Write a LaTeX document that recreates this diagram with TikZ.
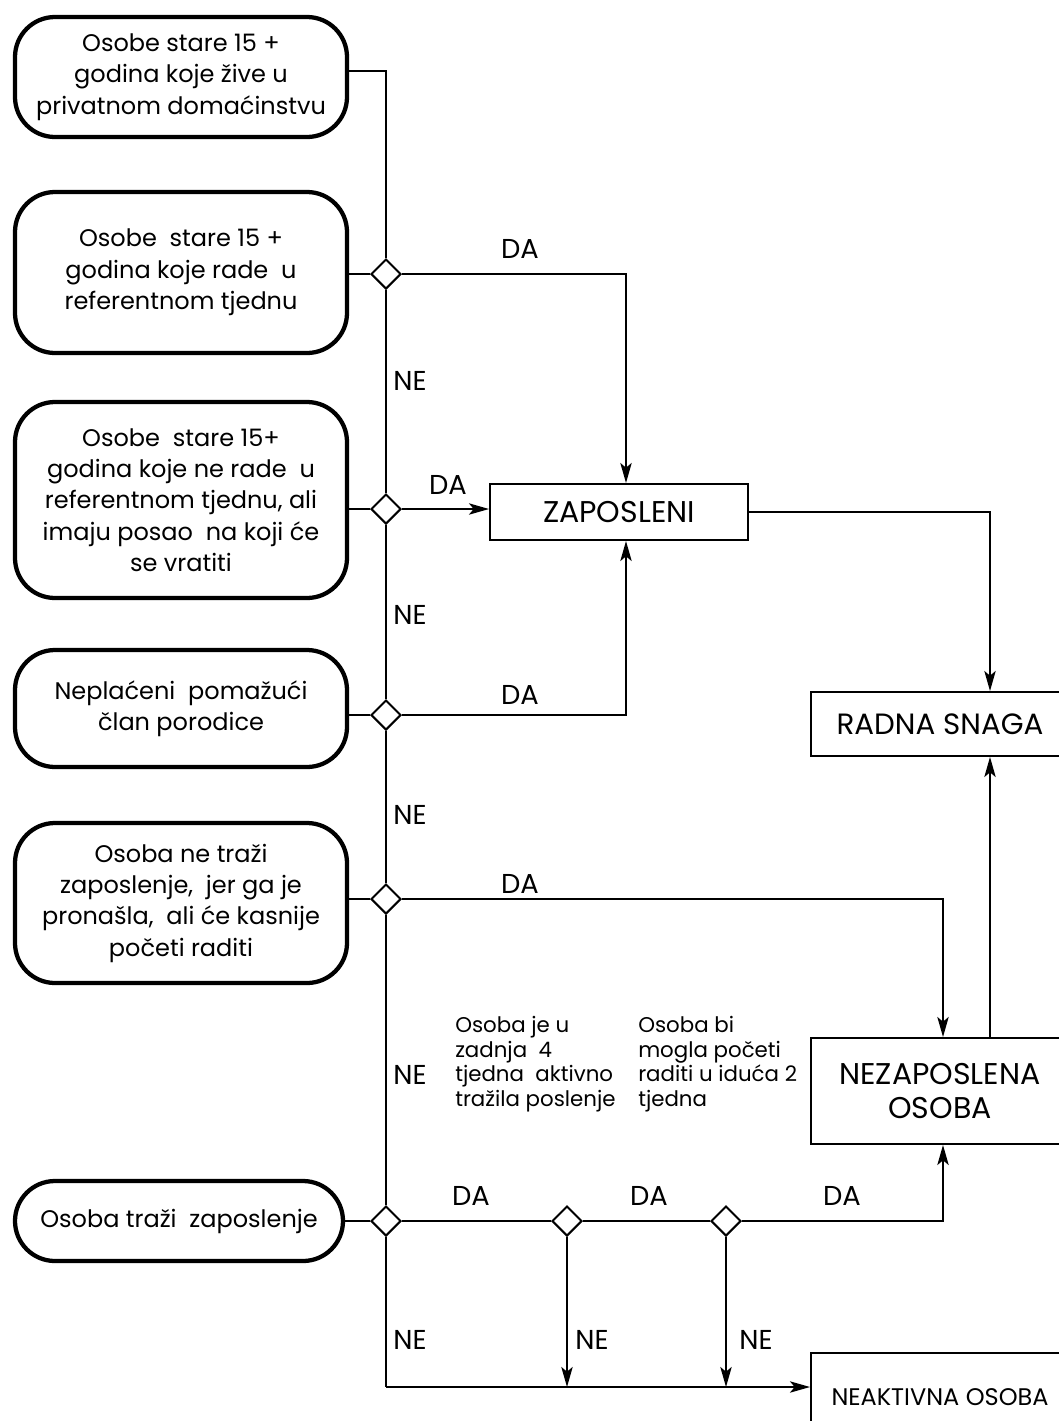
\documentclass[tikz,border=0pt]{standalone}
\usepackage{fontspec}
\setmainfont{Poppins}
\usetikzlibrary{arrows.meta,shapes.geometric,calc}
\begin{document}
\begin{tikzpicture}[x=0.75pt,y=-0.75pt,
  rbox/.style={draw,line width=3.2pt,rounded corners=30pt,align=center,font=\fontsize{18}{23.5}\selectfont,inner sep=0pt,minimum width=249pt},
  dec/.style={draw,diamond,line width=1.5pt,minimum width=22.5pt,minimum height=22.5pt,inner sep=0pt,fill=white},
  sbox/.style={draw,line width=1.5pt,align=center,inner sep=0pt,minimum width=193.5pt},
  conn/.style={line width=1.5pt},
  arr/.style={conn,-{Stealth[length=15pt,width=8.5pt,inset=3.5pt]}},
  lab/.style={font=\fontsize{20.5}{24}\selectfont,inner sep=0pt},
  note/.style={font=\fontsize{16}{18.5}\selectfont,align=left,anchor=north west,inner sep=0pt}
]
\clip (0,0) rectangle (1059,1421);
\fill[white] (0,0) rectangle (1059,1421);

% left rounded boxes
\node[rbox,minimum height=90pt] (b1) at (181,77) {Osobe stare 15 +\\godina koje žive u\\privatnom domaćinstvu};
\node[rbox,minimum height=120.75pt] (b2) at (181,272.5) {Osobe~ stare 15 +\\godina koje rade~ u\\referentnom tjednu};
\node[rbox,minimum height=147pt] (b3) at (181,500) {Osobe~ stare 15+\\godina koje ne rade~ u\\referentnom tjednu, ali\\imaju posao~ na koji će\\se vratiti};
\node[rbox,minimum height=87.75pt] (b4) at (181,708.5) {Neplaćeni~ pomažući\\član porodice};
\node[rbox,minimum height=120pt] (b5) at (181,903) {Osoba ne traži\\zaposlenje,~ jer ga je\\pronašla,~ ali će kasnije\\početi raditi};
\node[rbox,minimum height=60pt,minimum width=246pt] (b6) at (179,1221) {Osoba traži~ zaposlenje};

% decisions
\node[dec] (d1) at (386,274) {};
\node[dec] (d2) at (386,509) {};
\node[dec] (d3) at (386,715) {};
\node[dec] (d4) at (386,899) {};
\node[dec] (d5) at (386,1221) {};
\node[dec] (d6) at (567,1221) {};
\node[dec] (d7) at (726,1221) {};

% result boxes
\node[sbox,minimum height=42pt,font=\fontsize{22.5}{26}\selectfont] (zap) at (619,512) {ZAPOSLENI};
\node[sbox,minimum height=48pt,font=\fontsize{22}{26}\selectfont] (rad) at (940,724) {RADNA SNAGA};
\node[sbox,minimum height=79.5pt,font=\fontsize{22.5}{26}\selectfont] (nez) at (940,1091) {NEZAPOSLENA\\OSOBA};
\node[sbox,minimum height=66pt,font=\fontsize{18}{22}\selectfont] (neak) at (940,1397) {NEAKTIVNA OSOBA};

% helper coordinates
\coordinate (c0) at (386,71);
\coordinate (cB) at (386,1387);
\coordinate (zx) at (626,0);
\coordinate (rx) at (990,0);
\coordinate (nx) at (943,0);

% main spine
\draw[conn] (b1.east |- c0) -- (c0) -- (d1.north);
\draw[conn] (d1.south) -- (d2.north);
\draw[conn] (d2.south) -- (d3.north);
\draw[conn] (d3.south) -- (d4.north);
\draw[conn] (d4.south) -- (d5.north);
\draw[conn] (d5.south) -- (cB);
\draw[arr] (cB) -- (cB -| neak.west);

% boxes to decisions
\draw[conn] (b2.east |- d1) -- (d1.west);
\draw[conn] (b3.east |- d2) -- (d2.west);
\draw[conn] (b4.east |- d3) -- (d3.west);
\draw[conn] (b5.east |- d4) -- (d4.west);
\draw[conn] (b6.east |- d5) -- (d5.west);

% DA branches
\draw[arr] (d1.east) -| (zx |- zap.north);
\draw[arr] (d2.east) -- (d2.east -| zap.west);
\draw[arr] (d3.east) -| (zx |- zap.south);
\draw[arr] (zap.east) -| (rx |- rad.north);
\draw[arr] (rx |- nez.north) -- (rx |- rad.south);
\draw[arr] (d4.east) -| (nx |- nez.north);
\draw[conn] (d5.east) -- (d6.west);
\draw[conn] (d6.east) -- (d7.west);
\draw[arr] (d7.east) -| (nx |- nez.south);
\draw[arr] (d6.south) -- (d6 |- cB);
\draw[arr] (d7.south) -- (d7 |- cB);

% labels
\node[lab] (l1) at (520,249) {DA};
\node[lab] (l2) at (410,381) {NE};
\node[lab] (l3) at (448,485) {DA};
\node[lab] (l4) at (410,615) {NE};
\node[lab] (l5) at (520,695) {DA};
\node[lab] (l6) at (410,815) {NE};
\node[lab] (l7) at (520,884) {DA};
\node[lab] (l8) at (410,1075) {NE};
\node[lab] (l9) at (471,1196) {DA};
\node[lab] (l10) at (649,1196) {DA};
\node[lab] (l11) at (842,1196) {DA};
\node[lab] (l12) at (410,1340) {NE};
\node[lab] (l13) at (592,1340) {NE};
\node[lab] (l14) at (756,1340) {NE};

% notes
\node[note] (t1) at (455,1016) {Osoba je u\\zadnja~ 4\\tjedna~ aktivno\\tražila poslenje};
\node[note] (t2) at (638,1016) {Osoba bi\\mogla početi\\raditi u iduća 2\\tjedna};
\end{tikzpicture}
\end{document}
